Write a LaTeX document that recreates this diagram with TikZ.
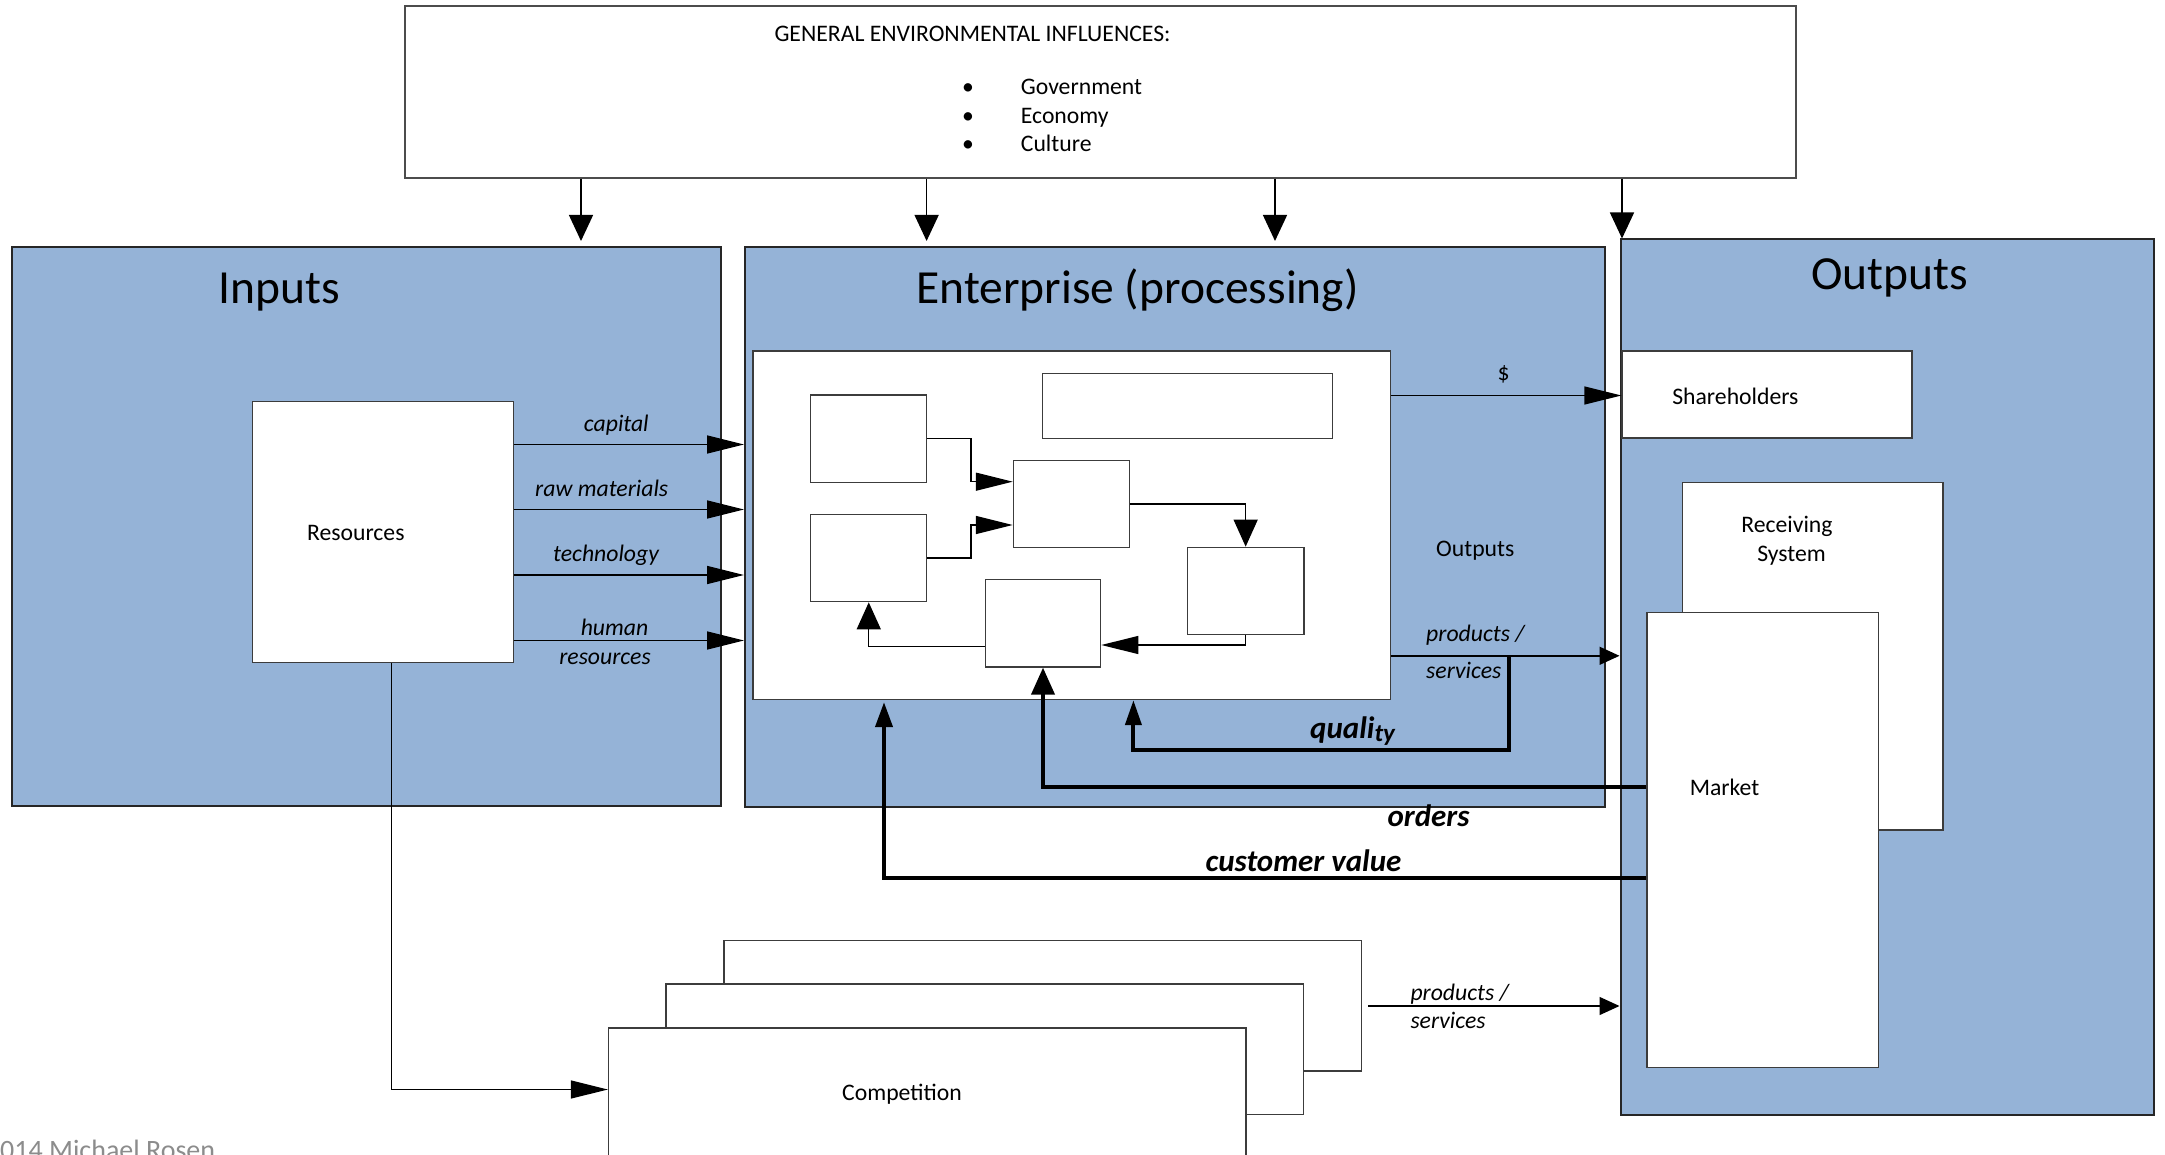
\documentclass[tikz,border=0pt]{standalone}
\usepackage{fontspec}
\setmainfont{Carlito}
\usetikzlibrary{arrows.meta,fit,calc}

\definecolor{panelblue}{RGB}{149,179,215}
\definecolor{edgegray}{RGB}{60,60,60}
\definecolor{notegray}{RGB}{140,140,140}

\begin{document}
\begin{tikzpicture}[x=1pt,y=-1pt,
  panel/.style={rectangle, draw=black!85, line width=2pt, fill=panelblue, inner sep=0pt},
  wbox/.style={rectangle, draw=edgegray, line width=1.3pt, fill=white, inner sep=0pt},
  title/.style={font=\fontsize{47.5}{56}\selectfont, inner sep=0pt, anchor=base},
  lbl/.style={font=\fontsize{23.7}{28}\selectfont, inner sep=0pt, anchor=base},
  itl/.style={font=\fontsize{23.7}{28}\selectfont\itshape, inner sep=0pt, anchor=base},
  bitl/.style={font=\fontsize{31}{36}\selectfont\bfseries\itshape, inner sep=0pt, anchor=base},
  flow/.style={draw=black, line width=1.4pt},
  harr/.style={flow, -{Triangle[length=37pt,width=18pt]}},
  varr/.style={flow, -{Triangle[length=27pt,width=24pt]}},
  parr/.style={flow, -{Triangle[length=20pt,width=18pt]}},
  toparr/.style={flow, -{Triangle[length=26pt,width=24pt]}},
  loopline/.style={draw=black, line width=4pt},
]
\useasboundingbox (0,0) rectangle (2165,1155);
\clip (0,0) rectangle (2165,1155);

% ---------- environment box ----------
\node[wbox, draw=black!70, line width=1.5pt, fit={(405,6)(1796,178)}] (env) {};
\node[lbl] (envT) at (972.5,41.7) {GENERAL ENVIRONMENTAL INFLUENCES:};
\foreach \yy/\nm/\txt in {95/gov/Government, 123.3/eco/Economy, 151.7/cul/Culture}{
  \node[lbl] (\nm B) at (968,\yy) {\textbullet};
  \node[lbl, anchor=base west] (\nm) at (1020.7,\yy) {\txt};
}

% ---------- three main panels ----------
\node[panel, fit={(12,247)(721,806)}] (inputs) {};
\node[panel, fit={(745,247)(1604.5,806.5)}] (ent) {};
\node[panel, fit={(1620.5,239.5)(2154,1115)}] (outs) {};
\node[title] (inputsT) at (279,303.3) {Inputs};
\node[title] (entT) at (1137.5,303.3) {Enterprise (processing)};
\node[title] (outsT) at (1889.7,290) {Outputs};

% influences arrows
\foreach \xx/\nm/\tgt/\gap in {581/ta/inputs/5, 926.6/tb/ent/5, 1275/tc/ent/5, 1622/td/outs/0}{
  \coordinate (\nm) at (\xx,0);
  \draw[toparr, shorten >=\gap pt] (env.south -| \nm) -- (\tgt.north -| \nm);
}

% ---------- inputs ----------
\node[wbox, fit={(252.7,401.7)(513.7,662.3)}] (res) {};
\node[lbl] (resT) at (355.8,540.7) {Resources};
\foreach \yy/\nm in {444.5/cap, 509.5/raw, 575/tec, 640.5/hum}{
  \coordinate (\nm) at (0,\yy);
  \draw[harr] (res.east |- \nm) -- (ent.west |- \nm);
}
\node[itl] (capT) at (616.3,431.7) {capital};
\node[itl] (rawT) at (601.7,496.7) {raw materials};
\node[itl] (tecT) at (606,561.7) {technology};
\node[itl] (humT) at (614.5,635) {human};
\node[itl] (hrsT) at (605,664) {resources};

% ---------- enterprise process ----------
\node[wbox, fit={(753,351)(1390.5,699.5)}] (proc) {};
\node[wbox, fit={(810.8,395)(926.7,482.3)}] (pa) {};
\node[wbox, fit={(810.8,514.3)(926.7,601.7)}] (pb) {};
\node[wbox, fit={(1013.4,460.3)(1129.4,547.3)}] (pc) {};
\node[wbox, fit={(1187.4,547.3)(1303.9,634.3)}] (pd) {};
\node[wbox, fit={(985.3,579.7)(1100.7,667)}] (pe) {};
\node[wbox, fit={(1042.7,373.3)(1332.6,438.3)}] (pf) {};

\coordinate (ka) at (971,481.7);
\coordinate (kb) at (971,525);
\coordinate (kd) at (0,645);
\coordinate (ke) at (0,646.7);
\draw[harr] (pa.east) -| (ka) -- (pc.west |- ka);
\draw[harr] (pb.east) -| (kb) -- (pc.west |- kb);
\draw[varr] (pc.east) -| (pd.north);
\draw[harr] (pd.south) |- (pe.east |- kd);
\draw[varr] (pe.west |- ke) -| (pb.south);

% ---------- outputs ----------
\node[wbox, fit={(1622,351)(1912,438)}] (share) {};
\node[lbl] (shareT) at (1735.4,404.3) {Shareholders};
\node[wbox, fit={(1682.4,482.3)(1943,830)}] (recv) {};
\node[lbl] (recvT1) at (1786.9,532.7) {Receiving};
\node[lbl] (recvT2) at (1791.5,561) {System};
\node[wbox, fit={(1647,612.5)(1878.5,1067.3)}] (market) {};
\node[lbl, anchor=base west] (marketT) at (1689.6,795) {Market};

\coordinate (kdol) at (0,395.5);
\draw[harr] (proc.east |- kdol) -- (share.west |- kdol);
\node[lbl] (dolT) at (1503.7,381) {\$};
\node[lbl] (outT) at (1475.3,556) {Outputs};

\coordinate (kp) at (0,655.8);
\draw[parr] (proc.east |- kp) -- (outs.west |- kp);
\node[itl, anchor=base west] (prodT) at (1426,641.7) {products /};
\node[itl, anchor=base west] (servT) at (1426,678.3) {services};

% ---------- feedback loops ----------
\coordinate (q1) at (1508.5,655.8);
\coordinate (q2) at (1133.4,750);
\draw[loopline, -{Triangle[length=25pt,width=16pt]}] (q1) |- (q2) -- (proc.south -| q2);
\node[bitl, anchor=base west] (qualT) at (1310,738.3) {quali\raisebox{-3pt}{\fontsize{25}{28}\selectfont ty}};

\coordinate (ko) at (0,786.7);
\draw[loopline, -{Triangle[length=27pt,width=23pt]}] (market.west |- ko) -| (pe.south);
\node[bitl] (ordT) at (1428.5,826) {orders};

\coordinate (kc) at (884,878.3);
\draw[loopline, shorten >=2pt, -{Triangle[length=25pt,width=17pt]}] (market.west |- kc) -| (proc.south -| kc);
\node[bitl] (custT) at (1303.5,871.7) {customer value};

% ---------- competition ----------
\node[wbox, fit={(724,940.3)(1361.6,1071)}] (comp3) {};
\node[wbox, fit={(666,984)(1303.6,1114.3)}] (comp2) {};
\node[wbox, fit={(608.5,1028)(1246,1175)}] (comp1) {};
\node[lbl] (compT) at (902,1100) {Competition};

\coordinate (kr) at (391.7,1089.5);
\draw[harr] (res.south -| kr) |- (comp1.west |- kr);

\coordinate (kq) at (0,1006);
\draw[parr, shorten <=6pt] (comp3.east |- kq) -- (outs.west |- kq);
\node[itl, anchor=base west] (prod2T) at (1410.3,1000) {products /};
\node[itl, anchor=base west] (serv2T) at (1410.3,1028.3) {services};

% ---------- footer ----------
\node[anchor=base west, inner sep=0pt, text=notegray, font=\fontsize{28}{32}\selectfont] (note) at (0,1159) {014 Michael Rosen};
\end{tikzpicture}
\end{document}
